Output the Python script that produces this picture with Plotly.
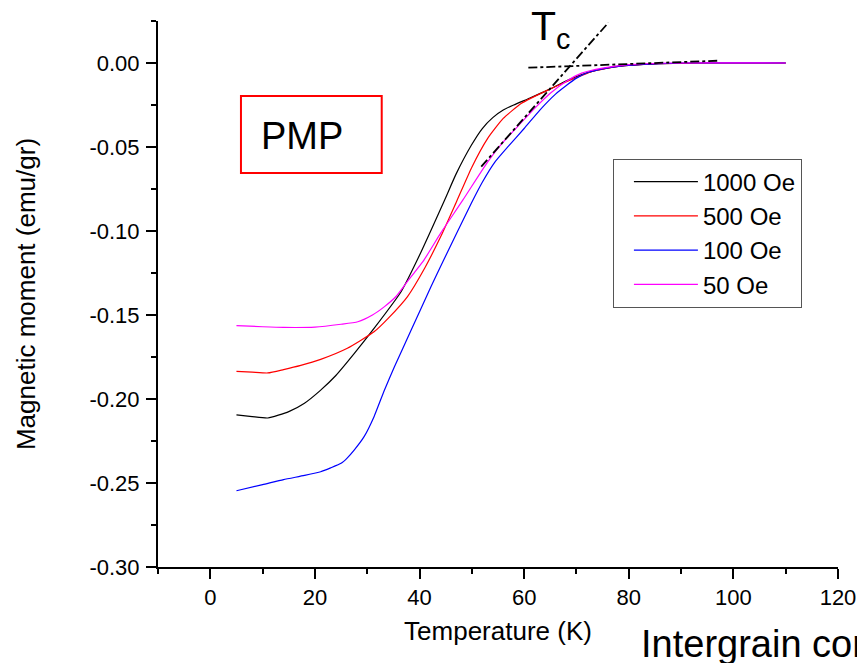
import plotly.graph_objects as go

# temperature (K) / magnetic moment (emu/gr)
t_1000 = [5, 8, 11, 15, 18, 21, 24, 27.5, 31.3, 36.5, 39.6, 44.8, 47, 49.9, 52, 54, 56, 58, 61, 64.6, 68.5, 73, 78,
          85, 95, 110]
m_1000 = [-0.2095, -0.2105, -0.2113, -0.2075, -0.2025, -0.195, -0.186, -0.173, -0.158, -0.136, -0.117, -0.0815,
          -0.066, -0.049, -0.039, -0.0325, -0.028, -0.025, -0.021, -0.016, -0.010, -0.005, -0.002, -0.0005, 0, 0]

t_500 = [5, 8, 11, 14, 17.3, 21.1, 26.2, 31.3, 34, 37.7, 41, 44.1, 47, 50, 53, 56, 59.5, 64.6, 69, 73, 78, 85, 95, 110]
m_500 = [-0.1835, -0.184, -0.1845, -0.1825, -0.180, -0.1764, -0.1698, -0.160, -0.152, -0.139, -0.122, -0.103,
         -0.083, -0.062, -0.045, -0.033, -0.024, -0.016, -0.010, -0.005, -0.002, -0.0005, 0, 0]

t_100 = [5, 10, 14, 18, 21.1, 23, 25, 26.2, 27.5, 29.4, 31.3, 33.3, 35.2, 38.4, 42.2, 44.5, 49.9, 52, 54.4, 57, 60,
         63, 66, 68, 70, 72.3, 75, 78, 82, 90, 110]
m_100 = [-0.2546, -0.251, -0.248, -0.2455, -0.2433, -0.241, -0.2383, -0.235, -0.2304, -0.2224, -0.2105, -0.1946,
         -0.1808, -0.159, -0.133, -0.118, -0.0835, -0.071, -0.059, -0.0495, -0.039, -0.028, -0.0185, -0.0135,
         -0.009, -0.0055, -0.0035, -0.002, -0.001, 0, 0]

t_50 = [5, 10, 14, 20, 25, 28.2, 31, 33.3, 35.5, 37.7, 40.9, 44.1, 48.3, 53, 56, 59, 62, 65, 68, 71, 75, 80, 88, 110]
m_50 = [-0.1563, -0.157, -0.1574, -0.1572, -0.1555, -0.154, -0.150, -0.145, -0.139, -0.130, -0.117, -0.101,
        -0.0815, -0.059, -0.047, -0.037, -0.027, -0.018, -0.011, -0.006, -0.003, -0.001, 0, 0]

series = [("1000 Oe", t_1000, m_1000, "black"),
          ("500 Oe", t_500, m_500, "red"),
          ("100 Oe", t_100, m_100, "blue"),
          ("50 Oe", t_50, m_50, "magenta")]

# Tc construction lines
tc_flat_t = [60.8, 97.3]
tc_flat_m = [-0.0028, 0.0014]
tc_steep_t = [51.8, 76.1]
tc_steep_m = [-0.0617, 0.024]

y_ticks = [0.0, -0.05, -0.10, -0.15, -0.20, -0.25, -0.30]
y_labels = ["0.00", "-0.05", "-0.10", "-0.15", "-0.20", "-0.25", "-0.30"]

fig = go.Figure()
for name, t, m, col in series:
    fig.add_trace(go.Scatter(x=t, y=m, mode='lines', name=name,
                             line=dict(color=col, width=1.2, shape='spline', smoothing=0.5)))

for t, m in [(tc_flat_t, tc_flat_m), (tc_steep_t, tc_steep_m)]:
    fig.add_trace(go.Scatter(x=t, y=m, mode='lines', showlegend=False, hoverinfo='skip',
                             line=dict(color='black', width=1.8, dash='dashdot')))

axis_common = dict(showline=True, linecolor='black', linewidth=2, ticks='outside', ticklen=10,
                   tickwidth=2, tickcolor='black', showgrid=False, zeroline=False, automargin=False,
                   tickfont=dict(size=22, color='black'))

fig.update_xaxes(range=[-10, 120], tick0=0, dtick=20,
                 minor=dict(dtick=10, tick0=0, ticks='outside', ticklen=5, tickwidth=2, tickcolor='black'),
                 title=dict(text='Temperature (K)', font=dict(size=26, color='black'), standoff=12),
                 **axis_common)
fig.update_yaxes(range=[-0.30, 0.025], tickvals=y_ticks, ticktext=y_labels, ticklabelstandoff=2,
                 minor=dict(tickvals=[0.025, -0.025, -0.075, -0.125, -0.175, -0.225, -0.275],
                            ticks='outside', ticklen=5, tickwidth=2, tickcolor='black'),
                 title=dict(text='Magnetic moment (emu/gr)', font=dict(size=26, color='black'), standoff=46),
                 **axis_common)

big = dict(family='Liberation Sans, Arial, sans-serif', size=38, color='black')
fig.add_shape(type='rect', xref='paper', yref='paper', x0=0.122, x1=0.329, y0=0.7216, y1=0.8626,
              line=dict(color='red', width=2))
fig.add_annotation(text='PMP', xref='paper', yref='paper', x=0.2118, y=0.789,
                   xanchor='center', yanchor='middle', showarrow=False, font=big)
fig.add_annotation(text='T<sub>c</sub>', xref='paper', yref='paper', x=0.545, y=1.036,
                   xanchor='left', yanchor='top', showarrow=False,
                   font=dict(family='Liberation Sans, Arial, sans-serif', size=41, color='black'))
fig.add_annotation(text='Intergrain cor', xref='paper', yref='paper', x=0.707, y=-0.183,
                   xanchor='left', yanchor='bottom', showarrow=False, font=big)

# the page body has an 8px margin, so the figure is drawn 8px smaller and shifted
fig.update_layout(width=857, height=655,
                  margin=dict(l=150, r=27, t=13, b=96),
                  paper_bgcolor='white', plot_bgcolor='white',
                  font=dict(family='Liberation Sans, Arial, sans-serif', color='black'),
                  legend=dict(x=0.669, y=0.748, xanchor='left', yanchor='top',
                              bordercolor='#555555', borderwidth=1, bgcolor='white',
                              font=dict(size=24, color='black'), itemwidth=64, indentation=15,
                              tracegroupgap=0))

fig.write_html("out.html")
